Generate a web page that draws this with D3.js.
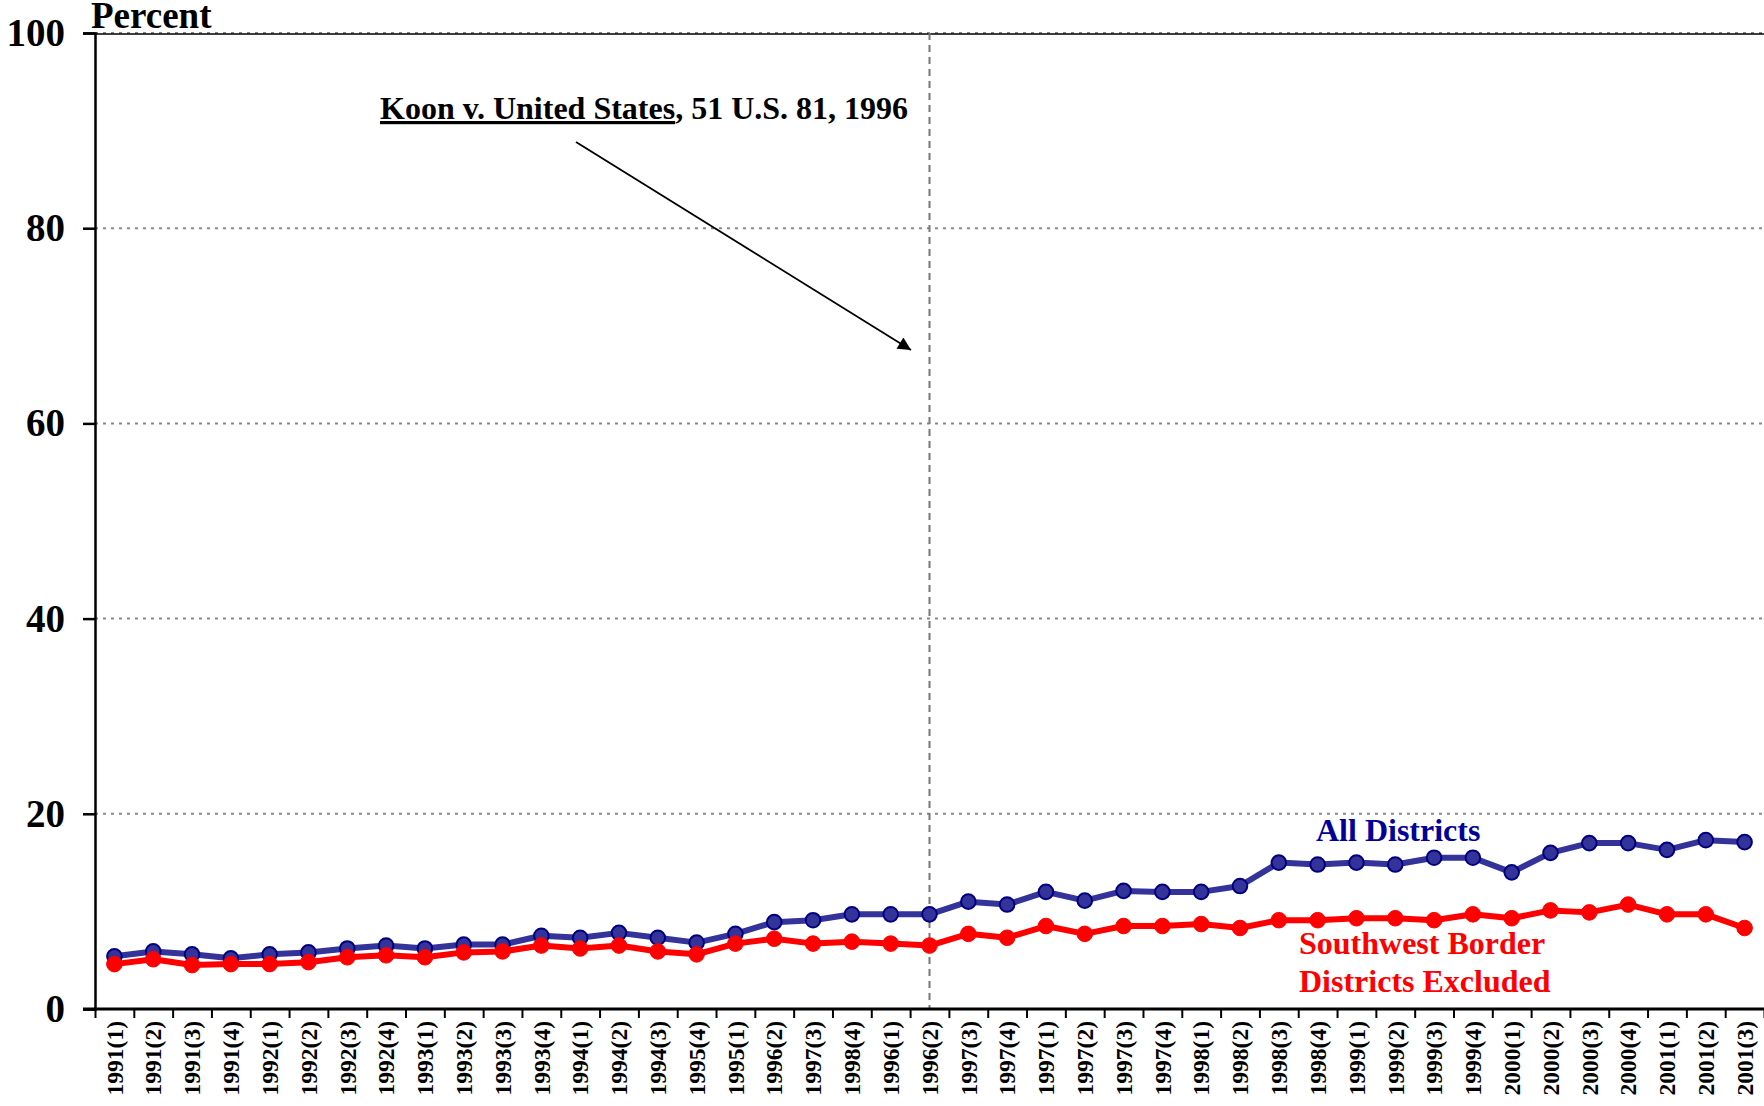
<!DOCTYPE html>
<html>
<head>
<meta charset="utf-8">
<script src="https://cdn.jsdelivr.net/npm/d3@7"></script>
<style>
  html, body { margin: 0; padding: 0; background: #fff; }
  svg { display: block; font-family: "Liberation Serif", "Times New Roman", serif; font-weight: bold; }
</style>
</head>
<body>
<svg id="chart" width="1764" height="1106"></svg>
<script>
const categories = ["1991(1)","1991(2)","1991(3)","1991(4)","1992(1)","1992(2)","1992(3)","1992(4)",
  "1993(1)","1993(2)","1993(3)","1993(4)","1994(1)","1994(2)","1994(3)","1995(4)","1995(1)","1996(2)",
  "1997(3)","1998(4)","1996(1)","1996(2)","1997(3)","1997(4)","1997(1)","1997(2)","1997(3)","1997(4)",
  "1998(1)","1998(2)","1998(3)","1998(4)","1999(1)","1999(2)","1999(3)","1999(4)",
  "2000(1)","2000(2)","2000(3)","2000(4)","2001(1)","2001(2)","2001(3)"];

const allDistricts = [5.4,5.9,5.6,5.2,5.6,5.8,6.2,6.5,6.2,6.6,6.6,7.5,7.3,7.8,7.3,6.8,7.7,8.9,9.1,9.7,9.7,9.7,
  11.0,10.7,12.0,11.1,12.1,12.0,12.0,12.6,15.0,14.8,15.0,14.8,15.5,15.5,14.0,16.0,17.0,17.0,16.3,17.3,17.1];

const swExcluded = [4.6,5.1,4.5,4.6,4.6,4.8,5.3,5.5,5.3,5.8,5.9,6.5,6.2,6.5,5.9,5.6,6.7,7.2,6.7,6.9,6.7,6.5,
  7.7,7.3,8.5,7.7,8.5,8.5,8.7,8.3,9.1,9.1,9.3,9.3,9.1,9.7,9.3,10.1,9.9,10.7,9.7,9.7,8.3];

const yTicks = [0, 20, 40, 60, 80, 100];
const koonIndex = 21;

(function () {
const svg = d3.select("#chart");
const pLeft = 95, pRight = 1764, pTop = 33, pBottom = 1009;

const x = d3.scaleBand().domain(d3.range(categories.length)).range([pLeft, pRight]).padding(0);
const xEdge = d3.scaleLinear().domain([0, categories.length]).range([pLeft, pRight]);
const y = d3.scaleLinear().domain([0, 100]).range([pBottom, pTop]);
const cx = i => x(i) + x.bandwidth() / 2;

// gridlines
svg.append("g").selectAll("line").data(yTicks.filter(d => d > 0)).join("line")
  .attr("x1", pLeft).attr("x2", pRight)
  .attr("y1", d => y(d)).attr("y2", d => y(d))
  .attr("stroke", "#888").attr("stroke-width", 2).attr("stroke-dasharray", "3,5");

// top border
svg.append("line").attr("x1", pLeft).attr("x2", pRight).attr("y1", y(100) + 1).attr("y2", y(100) + 1)
  .attr("stroke", "#000").attr("stroke-width", 1.5);

// vertical Koon line
svg.append("line").attr("x1", cx(koonIndex)).attr("x2", cx(koonIndex))
  .attr("y1", y(100)).attr("y2", y(0))
  .attr("stroke", "#777").attr("stroke-width", 2).attr("stroke-dasharray", "7,5");

// y axis
const yAxis = svg.append("g").attr("transform", `translate(${pLeft},0)`)
  .call(d3.axisLeft(y).tickValues(yTicks).tickSize(12).tickPadding(18).tickFormat(d3.format("d")));
yAxis.select(".domain").attr("stroke", "#000").attr("stroke-width", 2.5);
yAxis.selectAll(".tick line").attr("stroke", "#000").attr("stroke-width", 2.5);
yAxis.selectAll(".tick text").attr("font-size", 39).attr("font-weight", "bold")
  .attr("font-family", "Liberation Serif, serif").attr("fill", "#000");

// x axis
const xAxis = svg.append("g").attr("transform", `translate(0,${pBottom})`)
  .call(d3.axisBottom(xEdge).tickValues(d3.range(0, categories.length + 1)).tickSize(9).tickFormat(""));
xAxis.select(".domain").attr("stroke", "#000").attr("stroke-width", 3).attr("d", `M${pLeft - 12},0H${pRight}`);
xAxis.selectAll(".tick line").attr("stroke", "#000").attr("stroke-width", 2);

// x labels
svg.append("g").selectAll("text").data(categories).join("text")
  .attr("transform", (d, i) => `translate(${cx(i)},${pBottom + 12}) rotate(-90)`)
  .attr("text-anchor", "end").attr("dy", "0.35em")
  .attr("font-size", 23.5).attr("font-weight", "bold").attr("fill", "#000")
  .text(d => d);

// Percent title
svg.append("text").attr("x", 91).attr("y", 28).attr("font-size", 37).attr("font-weight", "bold").text("Percent");

// lines
const line = d3.line().x((d, i) => cx(i)).y(d => y(d));

svg.append("path").datum(allDistricts).attr("d", line)
  .attr("fill", "none").attr("stroke", "#333399").attr("stroke-width", 6).attr("stroke-linejoin", "round");
svg.append("g").selectAll("circle").data(allDistricts).join("circle")
  .attr("cx", (d, i) => cx(i)).attr("cy", d => y(d)).attr("r", 7.3)
  .attr("fill", "#333399").attr("stroke", "#000080").attr("stroke-width", 2);

svg.append("path").datum(swExcluded).attr("d", line)
  .attr("fill", "none").attr("stroke", "#ff0000").attr("stroke-width", 6).attr("stroke-linejoin", "round");
svg.append("g").selectAll("circle").data(swExcluded).join("circle")
  .attr("cx", (d, i) => cx(i)).attr("cy", d => y(d)).attr("r", 7.8)
  .attr("fill", "#ff0000").attr("stroke", "#ff0000").attr("stroke-width", 1);

// series labels
svg.append("text").attr("x", 1316).attr("y", 841).attr("font-size", 32).attr("font-weight", "bold")
  .attr("fill", "#000099").text("All Districts");
svg.append("text").attr("x", 1299).attr("y", 954).attr("font-size", 32).attr("font-weight", "bold")
  .attr("fill", "#ff0000").text("Southwest Border");
svg.append("text").attr("x", 1299).attr("y", 992).attr("font-size", 32).attr("font-weight", "bold")
  .attr("fill", "#ff0000").text("Districts Excluded");

// annotation
const ann = svg.append("text").attr("x", 380).attr("y", 119).attr("font-size", 32).attr("font-weight", "bold").attr("fill", "#000");
ann.append("tspan").attr("text-decoration", "underline").text("Koon v. United States");
ann.append("tspan").text(", 51 U.S. 81, 1996");

svg.append("defs").append("marker").attr("id", "arrow").attr("viewBox", "0 0 10 10")
  .attr("refX", 10).attr("refY", 5).attr("markerWidth", 17).attr("markerHeight", 13)
  .attr("markerUnits", "userSpaceOnUse").attr("orient", "auto")
  .append("path").attr("d", "M0,0L10,5L0,10Z").attr("fill", "#000");
svg.append("line").attr("x1", 576).attr("y1", 142).attr("x2", 911).attr("y2", 350)
  .attr("stroke", "#000").attr("stroke-width", 1.8).attr("marker-end", "url(#arrow)");
})();
</script>
</body>
</html>
